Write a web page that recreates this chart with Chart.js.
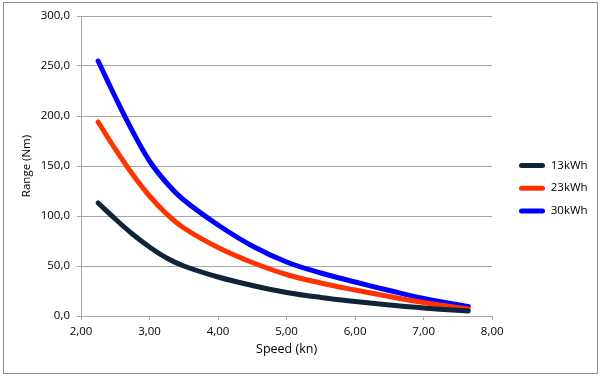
<!DOCTYPE html>
<html>
<head>
<meta charset="utf-8">
<script src="https://cdn.jsdelivr.net/npm/chart.js@4/dist/chart.umd.min.js"></script>
<style>
  html, body { margin: 0; padding: 0; background: #fff; }
  canvas { display: block; }
</style>
</head>
<body>
<canvas id="c" width="602" height="381"></canvas>
<script>
// ---- data ----
const speeds   = [2.25, 2.5, 2.75, 3.0, 3.25, 3.5, 4.0, 4.5, 5.0, 5.5, 6.0, 6.5, 7.0, 7.65];
const range13  = [113, 97, 82, 69, 58, 50, 39, 30.5, 23.5, 18.5, 14.5, 11, 8, 5];
const range23  = [194, 167, 142, 120, 102, 88, 68.5, 53.5, 41.5, 33, 26, 19.5, 13.5, 7];
const range30  = [255, 219, 185, 155, 133, 116, 91, 70, 54, 43, 34, 25.5, 17.5, 9.5];
const seriesNames = ['13kWh', '23kWh', '30kWh'];
const seriesColors = ['#0f2339', '#ff3300', '#0000ff'];
const xTicks = [2, 3, 4, 5, 6, 7, 8];
const yTicks = [0, 50, 100, 150, 200, 250, 300];

const FONT = { family: "'Open Sans', 'DejaVu Sans', sans-serif", size: 11.5 };
const GRID = '#a6a6a6';

function pts(ys) { return speeds.map((s, i) => ({ x: s, y: ys[i] })); }
const allSeries = [range13, range23, range30];

const datasets = allSeries.map((ys, i) => ({
  label: seriesNames[i],
  data: pts(ys),
  borderColor: seriesColors[i],
  backgroundColor: seriesColors[i],
  borderWidth: 5,
  borderCapStyle: 'round',
  borderJoinStyle: 'round',
  pointRadius: 0,
  pointHoverRadius: 0,
  tension: 0.4,
  fill: false
}));

const frame = {
  id: 'frame',
  beforeDraw(chart) {
    const ctx = chart.ctx;
    ctx.save();
    ctx.fillStyle = '#fff';
    ctx.fillRect(0, 0, chart.width, chart.height);
    ctx.strokeStyle = '#8f8f8f';
    ctx.lineWidth = 1;
    ctx.strokeRect(3.5, 2.5, 594, 371);
    ctx.restore();
  },
  afterLayout(chart) {
    const lg = chart.legend;
    if (!lg || !lg.columnSizes || !lg.columnSizes.length) return;
    const pad = lg.options.labels.padding;
    const dx = 519 - (lg.left + pad);
    lg.left += dx; lg.right += dx;
    const colH = lg.columnSizes[0].height;
    const y0 = ((lg.top + pad) + (lg.bottom - colH)) / 2;
    const dy = 165.5 - (y0 + 5.75);
    lg.top += dy; lg.bottom += dy;
  }
};

new Chart(document.getElementById('c'), {
  type: 'line',
  data: { datasets },
  options: {
    responsive: false,
    animation: false,
    devicePixelRatio: 1,
    layout: { padding: { top: 16, left: 0, right: 20, bottom: 0 } },
    plugins: {
      legend: {
        display: true,
        position: 'right',
        labels: {
          color: '#000',
          font: FONT,
          boxWidth: 26,
          boxHeight: 5,
          padding: 11.2,
          useBorderRadius: true,
          borderRadius: 2.5,
          generateLabels(chart) {
            const items = Chart.defaults.plugins.legend.labels.generateLabels(chart);
            items.forEach(it => { it.lineWidth = 0; it.fillStyle = it.strokeStyle; });
            return items;
          }
        }
      },
      tooltip: { enabled: false }
    },
    scales: {
      x: {
        type: 'linear',
        min: 2, max: 8,
        afterFit(s) { s.height = 65; },
        afterBuildTicks(s) { s.ticks = xTicks.map(v => ({ value: v })); },
        ticks: {
          color: '#000', font: FONT, padding: 5, maxRotation: 0,
          callback: v => v.toFixed(2).replace('.', ',')
        },
        grid: { drawOnChartArea: false, drawTicks: true, tickLength: 4, color: GRID, lineWidth: 1 },
        border: { display: true, color: GRID, width: 1 },
        title: { display: true, text: 'Speed (kn)', color: '#000', font: { family: FONT.family, size: 12.5 }, padding: { top: 0, bottom: 24 } }
      },
      y: {
        type: 'linear',
        min: 0, max: 300,
        afterFit(s) { s.width = 81; },
        afterBuildTicks(s) { s.ticks = yTicks.map(v => ({ value: v })); },
        ticks: {
          color: '#000', font: FONT, padding: 7,
          callback: v => v.toFixed(1).replace('.', ',')
        },
        grid: { drawOnChartArea: true, drawTicks: true, tickLength: 4, color: GRID, lineWidth: 1 },
        border: { display: true, color: GRID, width: 1 },
        title: { display: true, text: 'Range (Nm)', color: '#000', font: FONT, padding: { top: 20, bottom: 0 } }
      }
    }
  },
  plugins: [frame]
});
</script>
</body>
</html>
